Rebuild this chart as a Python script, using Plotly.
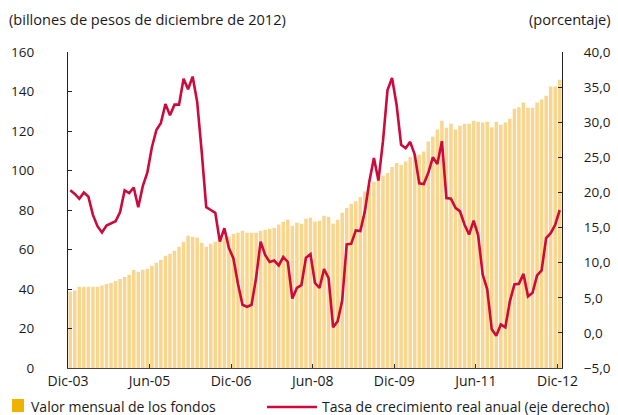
import plotly.graph_objects as go

# ---- data (monthly, Dic-03 .. Dic-12) ----
fund_value = [
    38.7, 39.3, 41.1, 41.1, 41.1, 41.1, 41.1, 41.8, 42.6, 43.1,
    44.0, 45.0, 46.1, 47.2, 49.7, 48.7, 49.7, 50.2, 51.8, 53.3,
    54.8, 56.7, 57.8, 59.4, 61.4, 63.9, 67.0, 66.5, 66.0, 63.4,
    61.4, 62.9, 63.9, 65.0, 66.0, 66.5, 68.0, 68.5, 69.5, 68.5,
    68.5, 68.5, 69.5, 70.0, 70.5, 71.0, 72.6, 74.1, 75.1, 72.0,
    73.6, 73.1, 75.6, 76.1, 74.1, 74.6, 77.1, 76.6, 73.1, 75.1,
    78.6, 81.0, 83.2, 84.4, 86.6, 89.4, 92.6, 94.3, 96.2, 97.4,
    98.7, 101.8, 103.8, 102.8, 104.5, 106.8, 108.0, 108.0, 109.6, 114.7,
    117.2, 120.7, 125.2, 121.7, 123.7, 120.7, 122.7, 123.7, 123.7, 125.2,
    124.7, 124.3, 124.7, 121.9, 124.7, 123.2, 124.3, 126.2, 131.3, 132.0,
    134.4, 131.8, 131.8, 134.4, 135.9, 137.9, 142.5, 142.5, 146.0,
]
growth_rate = [
    20.3, 19.8, 19.1, 20.0, 19.4, 16.8, 15.2, 14.3, 15.3, 15.6,
    15.9, 17.2, 20.3, 19.9, 20.7, 17.9, 20.9, 22.8, 26.4, 28.9,
    29.9, 32.6, 31.0, 32.5, 32.5, 36.2, 34.7, 36.5, 32.9, 25.8,
    17.9, 17.5, 17.1, 13.0, 14.9, 12.1, 10.6, 7.0, 4.0, 3.7,
    4.0, 7.8, 13.0, 11.1, 10.1, 10.3, 9.6, 10.8, 10.1, 4.9,
    6.4, 6.8, 10.7, 11.2, 7.1, 6.4, 9.1, 7.8, 0.8, 1.65,
    4.6, 12.6, 12.7, 14.6, 14.5, 17.3, 21.6, 24.9, 21.7, 27.3,
    34.6, 36.3, 32.5, 26.8, 26.3, 27.2, 25.4, 21.3, 21.2, 22.8,
    25.0, 24.05, 27.3, 19.2, 19.1, 17.8, 17.3, 15.4, 14.0, 16.0,
    13.9, 8.3, 6.2, 0.5, -0.4, 1.2, 0.8, 4.5, 6.9, 7.0,
    8.4, 5.2, 5.7, 8.2, 8.9, 13.5, 14.2, 15.4, 17.5,
]
tick_labels = ["Dic-03", "Jun-05", "Dic-06", "Jun-08", "Dic-09", "Jun-11", "Dic-12"]
left_ticks = [0, 20, 40, 60, 80, 100, 120, 140, 160]
right_ticks = [-5, 0, 5, 10, 15, 20, 25, 30, 35, 40]

months = list(range(len(fund_value)))
tick_pos = [m - 0.5 for m in months[::18]]

# ---- style ----
W, H = 618, 415
ML, MR, MT, MB = 68, 56, 52, 47
PW, PH = W - ML - MR, H - MT - MB
FONT = "Open Sans"
BAR_COLOR = "#F9D68F"
SWATCH_COLOR = "#EEB200"
LINE_COLOR = "#CC0A3C"


def px(x):
    return (x - ML) / PW


def py(y):
    return (H - MB - y) / PH


fig = go.Figure()
fig.add_trace(go.Bar(x=months, y=fund_value, marker=dict(color=BAR_COLOR, line_width=0),
                     name="Valor mensual de los fondos", showlegend=False))
fig.add_trace(go.Scatter(x=months, y=growth_rate, yaxis="y2", mode="lines",
                         line=dict(color=LINE_COLOR, width=2.6),
                         name="Tasa de crecimiento real anual (eje derecho)", showlegend=False))

fig.update_layout(
    width=W, height=H,
    margin=dict(l=ML, r=MR, t=MT, b=MB, autoexpand=False),
    paper_bgcolor="white", plot_bgcolor="white",
    separators=",.",
    bargap=0.22,
    font=dict(family=FONT, size=13, color="#1a1a1a"),
    xaxis=dict(range=[-0.5, 108.5], tickvals=tick_pos, ticktext=tick_labels,
               ticks="inside", ticklen=4, tickcolor="#333", showgrid=False,
               showline=True, linecolor="#444", linewidth=1.2, zeroline=False,
               automargin=False, tickfont=dict(size=14)),
    yaxis=dict(range=[0, 160], tickvals=left_ticks, ticks="inside", ticklen=4,
               tickcolor="#222", showgrid=False, showline=True, linecolor="#222",
               linewidth=1.2, zeroline=False, ticklabelstandoff=30, automargin=False,
               tickfont=dict(size=13.5)),
    yaxis2=dict(range=[-5, 40], tickvals=right_ticks, tickformat=".1f", overlaying="y",
                side="right", ticks="inside", ticklen=4, tickcolor="#222",
                showgrid=False, showline=True, linecolor="#222", linewidth=1.2,
                zeroline=False, ticklabelstandoff=18, automargin=False,
                tickfont=dict(size=13.5)),
    annotations=[
        dict(text="(billones de pesos de diciembre de 2012)", xref="paper", yref="paper",
             x=px(7), y=py(19), xanchor="left", yanchor="middle", showarrow=False,
             font=dict(size=14.6)),
        dict(text="(porcentaje)", xref="paper", yref="paper",
             x=px(613), y=py(19), xanchor="right", yanchor="middle", showarrow=False,
             font=dict(size=14.6)),
        dict(text="Valor mensual de los fondos", xref="paper", yref="paper",
             x=px(29), y=py(406), xanchor="left", yanchor="middle", showarrow=False,
             font=dict(size=14)),
        dict(text="Tasa de crecimiento real anual (eje derecho)", xref="paper", yref="paper",
             x=px(320), y=py(406), xanchor="left", yanchor="middle", showarrow=False,
             font=dict(size=14)),
    ],
    shapes=[
        dict(type="rect", xref="paper", yref="paper", x0=px(12), x1=px(24),
             y0=py(412), y1=py(399), fillcolor=SWATCH_COLOR, line_width=0),
        dict(type="line", xref="paper", yref="paper", x0=px(267), x1=px(317),
             y0=py(407), y1=py(407), line=dict(color=LINE_COLOR, width=2.6)),
    ],
)

fig.write_html("out.html", config={"displayModeBar": False},
               post_script="document.body.style.margin='0';document.body.style.overflow='hidden';")
